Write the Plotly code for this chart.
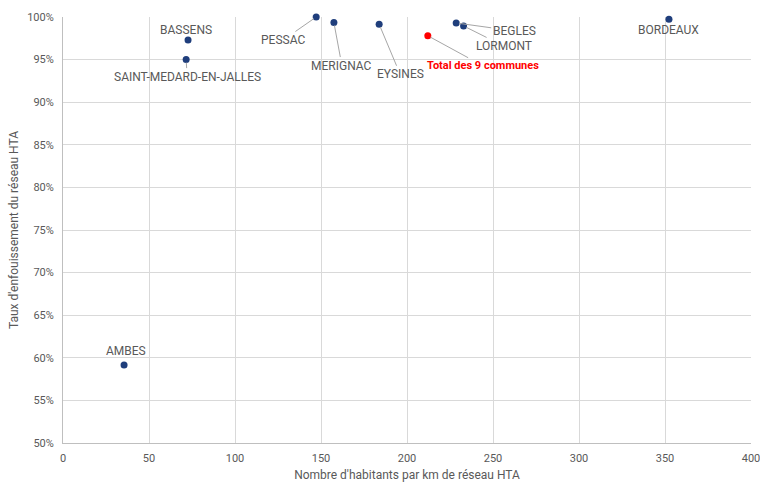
import plotly.graph_objects as go

communes = ["AMBES", "BASSENS", "SAINT-MEDARD-EN-JALLES", "PESSAC", "MERIGNAC",
            "EYSINES", "BEGLES", "LORMONT", "BORDEAUX"]
habitants_km = [35.5, 72.7, 71.6, 147.2, 157.5, 183.8, 228.6, 232.9, 352.3]
taux = [59.15, 97.3, 95.0, 100.0, 99.35, 99.15, 99.3, 98.95, 99.75]

total_label = "Total des 9 communes"
total_x = [212.1]
total_y = [97.8]

x_ticks = [0, 50, 100, 150, 200, 250, 300, 350, 400]
y_ticks = [50, 55, 60, 65, 70, 75, 80, 85, 90, 95, 100]
y_ticktext = [f"{v}%" for v in y_ticks]
x_ticktext = [str(v) for v in x_ticks]

# label offsets (pixels, text centre relative to point) and whether a leader line is shown
label_pos = {
    "AMBES": (2, -14, False),
    "BASSENS": (-2, -10, False),
    "SAINT-MEDARD-EN-JALLES": (1, 17, True),
    "PESSAC": (-33, 23, True),
    "MERIGNAC": (8, 43, True),
    "EYSINES": (21, 50, True),
    "BEGLES": (58, 8, True),
    "LORMONT": (40, 20, True),
    "BORDEAUX": (0, 11, False),
}

grey = "#595959"
fig = go.Figure()
fig.add_trace(go.Scatter(x=habitants_km, y=taux, mode="markers",
                         marker=dict(color="#1f3e7c", size=7), hoverinfo="x+y",
                         text=communes, showlegend=False, cliponaxis=False))
fig.add_trace(go.Scatter(x=total_x, y=total_y, mode="markers",
                         marker=dict(color="#ff0000", size=7),
                         showlegend=False, cliponaxis=False))

annotations = []
for name, xv, yv in zip(communes, habitants_km, taux):
    ax, ay, line = label_pos[name]
    annotations.append(dict(x=xv, y=yv, xref="x", yref="y", text=name,
                            showarrow=True, arrowhead=0, arrowwidth=1,
                            arrowcolor="#a6a6a6" if line else "rgba(0,0,0,0)",
                            ax=ax, ay=ay, standoff=3,
                            font=dict(family="Roboto", size=12, color=grey)))
annotations.append(dict(x=total_x[0], y=total_y[0], xref="x", yref="y",
                        text="<b>" + total_label + "</b>", showarrow=True,
                        arrowhead=0, arrowwidth=1, arrowcolor="#a6a6a6",
                        ax=55, ay=30, standoff=3,
                        font=dict(family="Roboto", size=11, color="#ff0000")))

fig.update_layout(
    width=760, height=483,
    margin=dict(l=63, r=9, t=17, b=40),
    paper_bgcolor="white", plot_bgcolor="white",
    font=dict(family="Roboto", size=12, color=grey),
    annotations=annotations,
    xaxis=dict(range=[0, 400], tickmode="array", tickvals=x_ticks,
               ticktext=x_ticktext, showgrid=True, automargin=False,
               gridcolor="#d9d9d9", showline=True, linecolor="#bfbfbf",
               zeroline=False, ticks="", ticklabelstandoff=5,
               ticklabeloverflow="allow",
               title=dict(text="Nombre d'habitants par km de réseau HTA",
                          font=dict(size=12, color=grey), standoff=6),
               tickfont=dict(size=11, color=grey)),
    yaxis=dict(range=[50, 100], tickmode="array", tickvals=y_ticks,
               ticktext=y_ticktext, automargin=False,
               showgrid=True, gridcolor="#d9d9d9", showline=True,
               linecolor="#bfbfbf", zeroline=False, ticks="",
               ticklabelstandoff=6, ticklabeloverflow="allow",
               title=dict(text="Taux d'enfouissement du réseau HTA",
                          font=dict(size=12, color=grey), standoff=5),
               tickfont=dict(size=11, color=grey)),
)

fig.write_html("out.html",
               config={"displayModeBar": False},
               post_script="document.body.style.margin='0';"
                           "document.body.style.overflow='hidden';")
